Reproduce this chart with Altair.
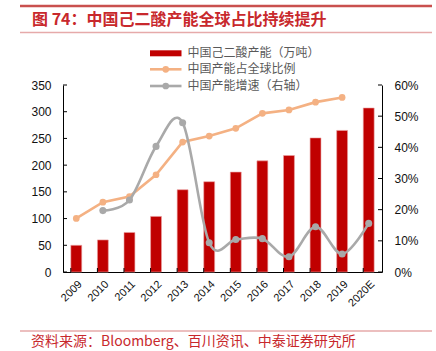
import altair as alt
import pandas as pd

# ---------------- data ----------------
years = ["2009", "2010", "2011", "2012", "2013", "2014", "2015", "2016", "2017", "2018", "2019", "2020E"]
capacity = [50, 60, 74, 104, 154, 169, 187, 208, 218, 251, 265, 307]          # 万吨, left axis
share_years = years[:11]
share = [0.172, 0.224, 0.242, 0.312, 0.417, 0.436, 0.461, 0.509, 0.520, 0.545, 0.560]
growth_years = years[1:]
growth = [0.197, 0.231, 0.403, 0.479, 0.094, 0.104, 0.107, 0.049, 0.145, 0.058, 0.156]
left_ticks = [0, 50, 100, 150, 200, 250, 300, 350]
right_ticks = [0, 0.1, 0.2, 0.3, 0.4, 0.5, 0.6]
series_names = ["中国己二酸产能（万吨）", "中国产能占全球比例", "中国产能增速（右轴）"]
series_colors = ["#C00000", "#F4B183", "#A9A9A9"]
title_text = "图 74：中国己二酸产能全球占比持续提升"
source_text = "资料来源：Bloomberg、百川资讯、中泰证券研究所"

W, H = 319, 187
LEFT, TOP = 63, 85
CJK = "Noto Sans CJK SC"
NUM = "Liberation Sans"
RED = "#C8282C"

df_bar = pd.DataFrame({"year": years, "cap": capacity})
df_share = pd.DataFrame({"year": share_years, "v": share})
df_growth = pd.DataFrame({"year": growth_years, "v": growth})
df_lt = pd.DataFrame({"v": left_ticks})
df_rt = pd.DataFrame({"v": right_ticks})
one = alt.Data(values=[{}])

xscale = alt.Scale(domain=years, paddingInner=0.59, paddingOuter=0.295)
xaxis = alt.Axis(labelAngle=-45, labelAlign="right", labelBaseline="top", ticks=False,
                 labelPadding=6, title=None, labelOverlap=False,
                 domainColor="#000", labelFont=NUM, labelFontSize=11, labelColor="#111")
lscale = alt.Scale(domain=[0, 350], nice=False, zero=True)
rscale = alt.Scale(domain=[0, 0.6], nice=False, zero=True)

X = alt.X("year:N", scale=xscale, axis=xaxis, sort=years)

bars = alt.Chart(df_bar).mark_bar(color=series_colors[0], stroke="#EBA3A3", strokeWidth=0.6).encode(
    x=X,
    y=alt.Y("cap:Q", scale=lscale,
            axis=alt.Axis(orient="left", values=left_ticks, ticks=False, labelPadding=12, title=None,
                          grid=False, domainColor="#000", labelFont=NUM, labelFontSize=12,
                          labelColor="#111")),
)
share_line = alt.Chart(df_share).mark_line(color=series_colors[1], strokeWidth=2.6).encode(
    x=X,
    y=alt.Y("v:Q", scale=rscale,
            axis=alt.Axis(orient="right", values=right_ticks, format=".0%", ticks=False,
                          labelPadding=12, title=None, grid=False, domainColor="#000",
                          labelFont=NUM, labelFontSize=12, labelColor="#111")))
share_pts = alt.Chart(df_share).mark_point(filled=True, opacity=1, size=45, color=series_colors[1]).encode(
    x=X, y=alt.Y("v:Q", scale=rscale, axis=None))
growth_line = alt.Chart(df_growth).mark_line(color=series_colors[2], strokeWidth=2.6,
                                             interpolate="cardinal").encode(
    x=X, y=alt.Y("v:Q", scale=rscale, axis=None))
growth_pts = alt.Chart(df_growth).mark_point(filled=True, opacity=1, size=50, color=series_colors[2]).encode(
    x=X, y=alt.Y("v:Q", scale=rscale, axis=None))

lticks = alt.Chart(df_lt).mark_rule(color="#000", strokeWidth=1).encode(
    y=alt.Y("v:Q", scale=lscale, axis=None), x=alt.value(0), x2=alt.value(4))
rticks = alt.Chart(df_rt).mark_rule(color="#000", strokeWidth=1).encode(
    y=alt.Y("v:Q", scale=rscale, axis=None), x=alt.value(W - 4), x2=alt.value(W))
xticks = alt.Chart(df_bar).mark_rule(color="#000", strokeWidth=1).encode(
    x=alt.X("year:N", scale=xscale, bandPosition=0, axis=xaxis, sort=years),
    y=alt.value(H - 4), y2=alt.value(H))

# -------- decorations: title, source, rules --------
deco = []
deco.append(alt.Chart(one).mark_rule(color="#C9504E", strokeWidth=2.5).encode(
    x=alt.value(20 - LEFT), x2=alt.value(432 - LEFT), y=alt.value(6 - TOP)))
deco.append(alt.Chart(one).mark_rule(color="#E6AAAA", strokeWidth=1.5).encode(
    x=alt.value(20 - LEFT), x2=alt.value(432 - LEFT), y=alt.value(32.5 - TOP)))
deco.append(alt.Chart(one).mark_rule(color="#E6AAAA", strokeWidth=1.5).encode(
    x=alt.value(20 - LEFT), x2=alt.value(432 - LEFT), y=alt.value(331 - TOP)))
deco.append(alt.Chart(one).mark_text(text=title_text, font=CJK, fontSize=16, fontWeight="bold",
                                     color=RED, align="left", baseline="middle").encode(
    x=alt.value(32 - LEFT), y=alt.value(19.5 - TOP)))
deco.append(alt.Chart(one).mark_text(text=source_text, font=CJK, fontSize=14,
                                     color=RED, align="left", baseline="middle").encode(
    x=alt.value(31 - LEFT), y=alt.value(342 - TOP)))

# -------- legend (drawn by hand) --------
leg_rows = [53.3 - TOP, 69.3 - TOP, 86 - TOP]
sx0, sx1, tx = 150 - LEFT, 181.5 - LEFT, 187.5 - LEFT
deco.append(alt.Chart(one).mark_rect(color=series_colors[0]).encode(
    x=alt.value(sx0), x2=alt.value(sx1), y=alt.value(leg_rows[0] - 3), y2=alt.value(leg_rows[0] + 3)))
for i in (1, 2):
    deco.append(alt.Chart(one).mark_rule(color=series_colors[i], strokeWidth=2.6).encode(
        x=alt.value(sx0), x2=alt.value(sx1), y=alt.value(leg_rows[i])))
    deco.append(alt.Chart(one).mark_point(filled=True, opacity=1, size=45, color=series_colors[i]).encode(
        x=alt.value((sx0 + sx1) / 2), y=alt.value(leg_rows[i])))
for i in range(3):
    deco.append(alt.Chart(one).mark_text(text=series_names[i], font=CJK, fontSize=12, color="#595959",
                                         align="left", baseline="middle").encode(
        x=alt.value(tx), y=alt.value(leg_rows[i])))

chart = alt.layer(bars, share_line, share_pts, growth_line, growth_pts, lticks, rticks, xticks,
                  *deco).resolve_scale(y="independent").properties(
    width=W, height=H,
    padding={"left": LEFT, "top": TOP, "right": 436 - LEFT - W, "bottom": 351 - TOP - H},
    autosize=alt.AutoSizeParams(type="none"),
    background="white",
).configure_view(stroke=None)

chart.save("out.html", embed_options={"renderer": "svg", "actions": False})
